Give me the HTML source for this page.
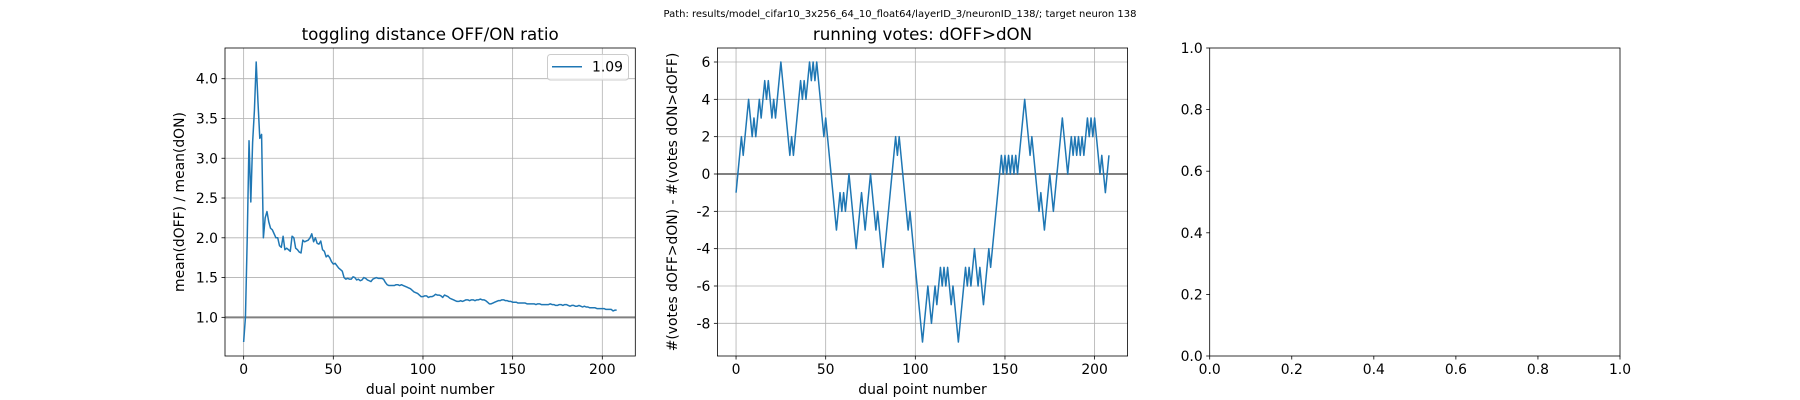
<!DOCTYPE html>
<html><head><meta charset="utf-8"><style>
html,body{margin:0;padding:0;background:#fff;}
svg{display:block;font-family:"DejaVu Sans","Liberation Sans",sans-serif;}
</style></head><body>
<svg id="fig" width="1800" height="400" viewBox="0 0 1800 400" xmlns="http://www.w3.org/2000/svg">
<rect width="1800" height="400" fill="#fff"/>
<text x="900" y="17" font-size="10" text-anchor="middle" fill="#000">Path: results/model_cifar10_3x256_64_10_float64/layerID_3/neuronID_138/; target neuron 138</text>
</svg>
<script>
const ratioValues = [0.69,1.0,2.0,3.22,2.45,3.2,3.6,4.21,3.7,3.25,3.3,2.0,2.25,2.33,2.2,2.12,2.1,2.05,2.0,2.0,1.9,1.88,2.02,1.85,1.87,1.85,1.83,2.02,2.0,1.87,1.85,1.82,1.81,1.97,1.95,1.96,1.97,2.0,2.05,1.95,2.0,1.93,1.92,1.96,1.85,1.83,1.76,1.78,1.75,1.7,1.67,1.68,1.65,1.62,1.6,1.58,1.5,1.48,1.49,1.48,1.48,1.51,1.5,1.47,1.48,1.46,1.47,1.5,1.49,1.47,1.46,1.45,1.48,1.49,1.5,1.49,1.49,1.49,1.48,1.44,1.41,1.4,1.4,1.4,1.4,1.41,1.41,1.4,1.41,1.4,1.39,1.38,1.37,1.36,1.34,1.32,1.31,1.3,1.28,1.26,1.26,1.27,1.27,1.25,1.26,1.26,1.27,1.29,1.28,1.28,1.27,1.25,1.28,1.27,1.26,1.24,1.23,1.22,1.21,1.2,1.2,1.21,1.2,1.21,1.22,1.22,1.21,1.22,1.22,1.21,1.22,1.22,1.23,1.22,1.22,1.21,1.19,1.17,1.17,1.18,1.19,1.2,1.21,1.21,1.22,1.22,1.21,1.21,1.2,1.2,1.19,1.19,1.19,1.18,1.18,1.18,1.18,1.18,1.17,1.17,1.17,1.17,1.17,1.16,1.17,1.17,1.16,1.16,1.16,1.16,1.16,1.17,1.16,1.16,1.15,1.15,1.16,1.16,1.15,1.16,1.16,1.15,1.14,1.15,1.15,1.14,1.14,1.15,1.14,1.13,1.14,1.13,1.13,1.12,1.12,1.12,1.12,1.11,1.11,1.11,1.11,1.11,1.1,1.1,1.1,1.1,1.08,1.09,1.09];
const voteValues = [-1,0,1,2,1,2,3,4,3,2,3,2,3,4,3,4,5,4,5,4,3,4,3,4,5,6,5,4,3,2,1,2,1,2,3,4,5,4,5,4,5,6,5,6,5,6,5,4,3,2,3,2,1,0,-1,-2,-3,-2,-1,-2,-1,-2,-1,0,-1,-2,-3,-4,-3,-2,-1,-2,-3,-2,-1,0,-1,-2,-3,-2,-3,-4,-5,-4,-3,-2,-1,0,1,2,1,2,1,0,-1,-2,-3,-2,-3,-4,-5,-6,-7,-8,-9,-8,-7,-6,-7,-8,-7,-6,-7,-6,-5,-6,-5,-6,-5,-6,-7,-6,-7,-8,-9,-8,-7,-6,-5,-6,-5,-6,-5,-4,-5,-6,-5,-6,-7,-6,-5,-4,-5,-4,-3,-2,-1,0,1,0,1,0,1,0,1,0,1,0,1,2,3,4,3,2,1,2,1,0,-1,-2,-1,-2,-3,-2,-1,0,-1,-2,-1,0,1,2,3,2,1,0,1,2,1,2,1,2,1,2,1,2,3,2,3,2,3,2,1,0,1,0,-1,0,1];
const legendLabels = ["1.09"];
const xTicks = [0,50,100,150,200];
const ratioYTicks = [1.0,1.5,2.0,2.5,3.0,3.5,4.0];
const voteYTicks = [-8,-6,-4,-2,0,2,4,6];
const unitTicks = [0.0,0.2,0.4,0.6,0.8,1.0];

const NS="http://www.w3.org/2000/svg";
const svg=document.getElementById('fig');
function mk(tag,attrs,parent){const e=document.createElementNS(NS,tag);for(const k in attrs)e.setAttribute(k,attrs[k]);(parent||svg).appendChild(e);return e;}
const axTop=48,bot=356;
function makeAxis(left,right,xmin,xmax,ymin,ymax){
  return {left,right,x:v=>left+(v-xmin)/(xmax-xmin)*(right-left),y:v=>bot-(v-ymin)/(ymax-ymin)*(bot-axTop)};
}
function fmt(v,d){return v.toFixed(d);}
function drawAxes(ax,xt,yt,xd,yd,grid,name){
  const g=mk('g',{});
  
  
  if(grid){
    xt.forEach(v=>{const l=mk('line',{x1:ax.x(v),x2:ax.x(v),y1:axTop,y2:bot,stroke:'#b0b0b0','stroke-width':0.8},g);
      
      });
    yt.forEach(v=>{const l=mk('line',{x1:ax.left,x2:ax.right,y1:ax.y(v),y2:ax.y(v),stroke:'#b0b0b0','stroke-width':0.8},g);
      
      });
  }
  xt.forEach(v=>{const X=ax.x(v);mk('line',{x1:X,x2:X,y1:bot,y2:bot+3.5,stroke:'#000','stroke-width':0.8},g);
    const t=mk('text',{x:X,y:bot+18,'font-size':13.9,'text-anchor':'middle'},g);t.textContent=fmt(v,xd);
    
    });
  yt.forEach(v=>{const Y=ax.y(v);mk('line',{x1:ax.left-3.5,x2:ax.left,y1:Y,y2:Y,stroke:'#000','stroke-width':0.8},g);
    const t=mk('text',{x:ax.left-7,y:Y+5,'font-size':13.9,'text-anchor':'end'},g);t.textContent=fmt(v,yd);
    
    });
  return g;
}
function frame(ax,g){mk('rect',{x:ax.left,y:axTop,width:ax.right-ax.left,height:bot-axTop,fill:'none',stroke:'#000','stroke-width':0.8},g);}
function path(ax,vals){return vals.map((v,i)=>(i?'L':'M')+ax.x(i).toFixed(2)+','+ax.y(v).toFixed(2)).join('');}
function label(txt,x,y,size,rot,name){const t=mk('text',{x,y,'font-size':size,'text-anchor':'middle'});
  if(rot)t.setAttribute('transform','rotate(-90 '+x+' '+y+')');t.textContent=txt;
  
  return t;}

// axis 1
const n1=ratioValues.length-1, m1=n1*0.05;
const rmin=Math.min(...ratioValues),rmax=Math.max(...ratioValues),rm=(rmax-rmin)*0.05;
const a1=makeAxis(225,635.3,-m1,n1+m1,rmin-rm,rmax+rm);
const g1=drawAxes(a1,xTicks,ratioYTicks,0,1,true,'ratio-axes');
mk('line',{x1:a1.left,x2:a1.right,y1:a1.y(1),y2:a1.y(1),stroke:'#808080','stroke-width':2},g1);
const p1=mk('path',{d:path(a1,ratioValues),fill:'none',stroke:'#1f77b4','stroke-width':1.5,'stroke-linejoin':'round'},g1);


frame(a1,g1);
label('toggling distance OFF/ON ratio',(a1.left+a1.right)/2,40,16.7,false,'ratio-title');
label('dual point number',(a1.left+a1.right)/2,394,13.9,false,'ratio-x-axis-title');
label('mean(dOFF) / mean(dON)',184,(axTop+bot)/2,13.9,true,'ratio-y-axis-title');
const lg=mk('g',{});


mk('rect',{x:547.5,y:54.5,width:81,height:25.5,rx:3,fill:'#fff','fill-opacity':0.8,stroke:'#cccccc','stroke-width':1},lg);
mk('line',{x1:552,x2:582,y1:66.7,y2:66.7,stroke:'#1f77b4','stroke-width':1.5},lg);
const lt=mk('text',{x:592,y:71.7,'font-size':13.9},lg);lt.textContent=legendLabels[0];



// axis 2
const n2=voteValues.length-1,m2=n2*0.05;
const vmin=Math.min(...voteValues),vmax=Math.max(...voteValues),vm=(vmax-vmin)*0.05;
const a2=makeAxis(717.4,1127.6,-m2,n2+m2,vmin-vm,vmax+vm);
const g2=drawAxes(a2,xTicks,voteYTicks,0,0,true,'votes-axes');
mk('line',{x1:a2.left,x2:a2.right,y1:a2.y(0),y2:a2.y(0),stroke:'#808080','stroke-width':2},g2);
const p2=mk('path',{d:path(a2,voteValues),fill:'none',stroke:'#1f77b4','stroke-width':1.5,'stroke-linejoin':'round'},g2);


frame(a2,g2);
label('running votes: dOFF>dON',(a2.left+a2.right)/2,40,16.7,false,'votes-title');
label('dual point number',(a2.left+a2.right)/2,394,13.9,false,'votes-x-axis-title');
label('#(votes dOFF>dON) - #(votes dON>dOFF)',677,(axTop+bot)/2,13.9,true,'votes-y-axis-title');

// axis 3
const a3=makeAxis(1209.7,1620,0,1,0,1);
const g3=drawAxes(a3,unitTicks,unitTicks,1,1,false,'empty-axes');
frame(a3,g3);
</script>
</body></html>
